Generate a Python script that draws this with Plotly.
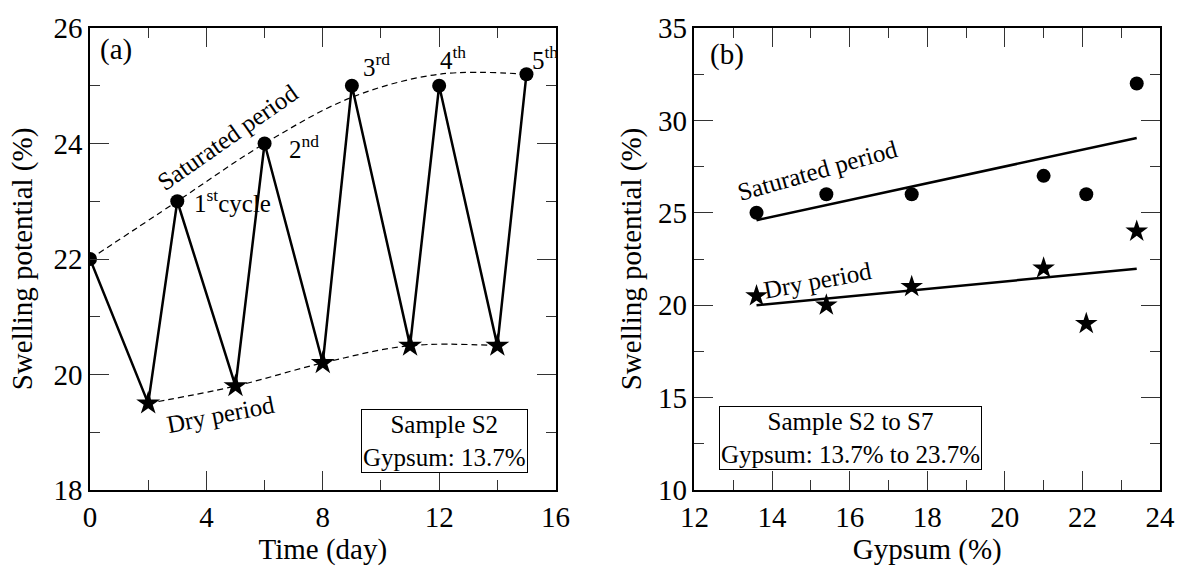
import plotly.graph_objects as go

# ---------------- Panel (a) data ----------------
sat_day = [0, 3, 6, 9, 12, 15]
sat_swell = [22.0, 23.0, 24.0, 25.0, 25.0, 25.2]
dry_day = [2, 5, 8, 11, 14]
dry_swell = [19.5, 19.8, 20.2, 20.5, 20.5]
cycle_day = [0, 2, 3, 5, 6, 8, 9, 11, 12, 14, 15]
cycle_swell = [22.0, 19.5, 23.0, 19.8, 24.0, 20.2, 25.0, 20.5, 25.0, 20.5, 25.2]
sat_trend_day = [0, 3, 6, 9, 12, 15]
sat_trend_swell = [22.0, 23.0, 24.0, 24.8, 25.2, 25.2]
dry_trend_day = [2, 5, 8, 11, 14]
dry_trend_swell = [19.5, 19.8, 20.2, 20.5, 20.5]

# ---------------- Panel (b) data ----------------
gypsum = [13.6, 15.4, 17.6, 21.0, 22.1, 23.4]
sat_b = [25.0, 26.0, 26.0, 27.0, 26.0, 32.0]
dry_b = [20.5, 20.0, 21.0, 22.0, 19.0, 24.0]
fit_x = [13.6, 23.4]
fit_sat = [24.6, 29.05]
fit_dry = [20.0, 21.97]

FONT = "Liberation Serif"
TICKF = 29
ANNF = 25
BLACK = "black"
TICKC = "#333333"

fig = go.Figure()

# Panel (a)
fig.add_trace(go.Scatter(x=sat_trend_day, y=sat_trend_swell, mode="lines",
                         line=dict(color=BLACK, width=1.2, dash="6px,4px", shape="spline"),
                         xaxis="x", yaxis="y", showlegend=False))
fig.add_trace(go.Scatter(x=dry_trend_day, y=dry_trend_swell, mode="lines",
                         line=dict(color=BLACK, width=1.2, dash="6px,4px", shape="spline"),
                         xaxis="x", yaxis="y", showlegend=False))
fig.add_trace(go.Scatter(x=cycle_day, y=cycle_swell, mode="lines",
                         line=dict(color=BLACK, width=2.5),
                         xaxis="x", yaxis="y", showlegend=False))
fig.add_trace(go.Scatter(x=sat_day, y=sat_swell, mode="markers",
                         marker=dict(symbol="circle", size=14, color=BLACK),
                         xaxis="x", yaxis="y", showlegend=False))
fig.add_trace(go.Scatter(x=dry_day, y=dry_swell, mode="markers",
                         marker=dict(symbol="star", size=18, color=BLACK),
                         xaxis="x", yaxis="y", showlegend=False))

# Panel (b)
fig.add_trace(go.Scatter(x=fit_x, y=fit_sat, mode="lines",
                         line=dict(color=BLACK, width=2.5),
                         xaxis="x2", yaxis="y2", showlegend=False))
fig.add_trace(go.Scatter(x=fit_x, y=fit_dry, mode="lines",
                         line=dict(color=BLACK, width=2.5),
                         xaxis="x2", yaxis="y2", showlegend=False))
fig.add_trace(go.Scatter(x=gypsum, y=sat_b, mode="markers",
                         marker=dict(symbol="circle", size=14, color=BLACK),
                         xaxis="x2", yaxis="y2", showlegend=False))
fig.add_trace(go.Scatter(x=gypsum, y=dry_b, mode="markers",
                         marker=dict(symbol="star", size=17, color=BLACK),
                         xaxis="x2", yaxis="y2", showlegend=False))

axis_common = dict(
    showline=True, linecolor=BLACK, linewidth=1.5, mirror="allticks",
    ticks="inside", ticklen=19, tickwidth=1.3, tickcolor=TICKC,
    showgrid=False, zeroline=False,
    tickfont=dict(family=FONT, size=TICKF, color=BLACK),
)

fig.update_layout(
    width=1187, height=578,
    margin=dict(l=90, r=19, t=20, b=88),
    paper_bgcolor="white", plot_bgcolor="white",
    font=dict(family=FONT, color=BLACK),
    xaxis=dict(domain=[0, 0.4351], range=[0, 16], tickvals=[0, 4, 8, 12, 16],
               minor=dict(ticks="inside", ticklen=10, tickwidth=1.3, tickcolor=TICKC,
                          tickvals=[2, 6, 10, 14]),
               title=dict(text="Time (day)", font=dict(family=FONT, size=TICKF), standoff=4),
               anchor="y", **axis_common),
    yaxis=dict(domain=[0, 1], range=[18, 26], tickvals=[18, 20, 22, 24, 26],
               minor=dict(ticks="inside", ticklen=10, tickwidth=1.3, tickcolor=TICKC,
                          tickvals=[19, 21, 23, 25]),
               title=dict(text="Swelling potential (%)", font=dict(family=FONT, size=TICKF), standoff=12),
               anchor="x", **axis_common),
    xaxis2=dict(domain=[0.5649, 1.0], range=[12, 24], tickvals=[12, 14, 16, 18, 20, 22, 24],
                minor=dict(ticks="inside", ticklen=10, tickwidth=1.3, tickcolor=TICKC,
                           tickvals=[13, 15, 17, 19, 21, 23]),
                title=dict(text="Gypsum (%)", font=dict(family=FONT, size=TICKF), standoff=4),
                anchor="y2", **axis_common),
    yaxis2=dict(domain=[0, 1], range=[10, 35], tickvals=[10, 15, 20, 25, 30, 35],
                minor=dict(ticks="inside", ticklen=10, tickwidth=1.3, tickcolor=TICKC,
                           tickvals=[12.5, 17.5, 22.5, 27.5, 32.5]),
                title=dict(text="Swelling potential (%)", font=dict(family=FONT, size=TICKF), standoff=8),
                anchor="x2", **axis_common),
)

def ann(x, y, text, xref="x", yref="y", size=ANNF, angle=0, xanchor="center", **kw):
    fig.add_annotation(x=x, y=y, xref=xref, yref=yref, text=text, showarrow=False,
                       textangle=angle, xanchor=xanchor, yanchor="middle",
                       font=dict(family=FONT, size=size, color=BLACK), **kw)

# Panel (a) annotations
ann(0.9, 25.62, "(a)", size=TICKF)
ann(4.71, 24.11, "Saturated period", angle=-35)
ann(3.5, 23.0, "1<sup>st</sup>cycle", xanchor="left")
ann(6.76, 23.94, "2<sup>nd</sup>", xanchor="left")
ann(9.32, 25.36, "3<sup>rd</sup>", xanchor="left")
ann(11.95, 25.48, "4<sup>th</sup>", xanchor="left")
ann(15.12, 25.48, "5<sup>th</sup>", xanchor="left")
ann(4.47, 19.31, "Dry period", angle=-11)
ann(12.17, 18.85, "Sample S2<br>Gypsum: 13.7%", bordercolor=BLACK, borderwidth=1,
    borderpad=1, bgcolor="white")

# Panel (b) annotations
ann(12.84, 33.55, "(b)", xref="x2", yref="y2", size=TICKF)
ann(15.17, 27.29, "Saturated period", xref="x2", yref="y2", angle=-15.7)
ann(15.17, 21.33, "Dry period", xref="x2", yref="y2", angle=-10.6)
ann(16.02, 12.79, "Sample S2 to S7<br>Gypsum: 13.7% to 23.7%", xref="x2", yref="y2",
    bordercolor=BLACK, borderwidth=1, borderpad=1, bgcolor="white")

fig.write_html("out.html")
